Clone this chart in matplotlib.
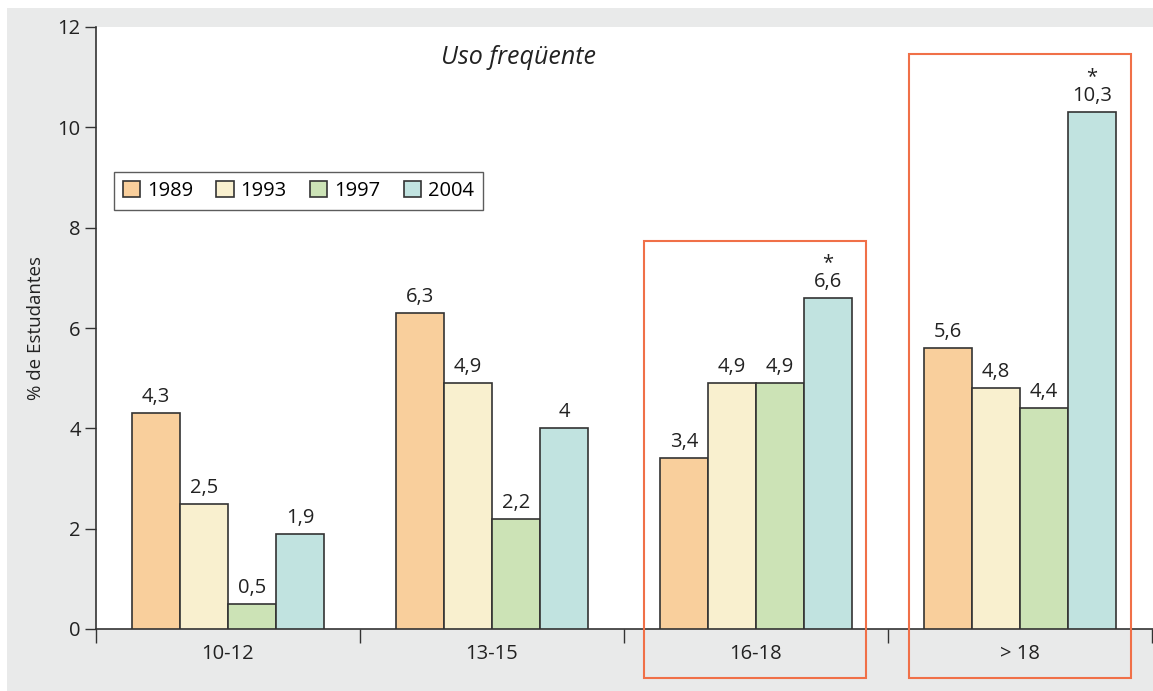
import matplotlib.pyplot as plt
from matplotlib.patches import Rectangle
import numpy as np

plt.rcParams['font.family'] = ['Open Sans', 'DejaVu Sans']

categories = ['10-12', '13-15', '16-18', '> 18']
years = ['1989', '1993', '1997', '2004']
v1989 = [4.3, 6.3, 3.4, 5.6]
v1993 = [2.5, 4.9, 4.9, 4.8]
v1997 = [0.5, 2.2, 4.9, 4.4]
v2004 = [1.9, 4.0, 6.6, 10.3]
starred = [False, False, True, True]  # asterisk on 2004 bar

colors = ['#f9cf9c', '#f9f0cf', '#cce3b6', '#c1e3e0']
edge = '#333333'
red = '#f07048'

fig = plt.figure(figsize=(11.53, 6.91), dpi=100, facecolor='white')
bg = Rectangle((7 / 1153, 0), 1 - 7 / 1153, 1 - 8 / 691,
               transform=fig.transFigure, facecolor='#e9eaea',
               edgecolor='none', zorder=-10)
fig.add_artist(bg)
ax = fig.add_axes([96 / 1153, 62 / 691, 1057 / 1153, 602 / 691])
ax.set_zorder(1)
ax.set_facecolor('white')

x = np.arange(len(categories))
w = 0.182
series = [v1989, v1993, v1997, v2004]
for i, (vals, c, lab) in enumerate(zip(series, colors, years)):
    pos = x + (i - 1.5) * w
    ax.bar(pos, vals, width=w, color=c, edgecolor=edge, linewidth=1.2,
           label=lab, zorder=3)
    for j, (p, v) in enumerate(zip(pos, vals)):
        txt = ('%g' % v).replace('.', ',')
        ax.text(p, v + 0.12, txt, ha='center', va='bottom', fontsize=14.5,
                color='#222222', zorder=4)
        if i == 3 and starred[j]:
            ax.text(p, v + 0.5, '*', ha='center', va='bottom', fontsize=14.5,
                    color='#222222', zorder=4)

ax.set_xlim(-0.5, 3.505)
ax.set_ylim(0, 12)
ax.set_yticks([0, 2, 4, 6, 8, 10, 12])
ax.tick_params(axis='y', labelsize=14.5, length=8, width=1, colors='#333333',
               labelcolor='#222222', pad=3)
ax.set_xticks([-0.5, 0.5, 1.5, 2.5, 3.5])
ax.set_xticklabels([])
ax.set_xticks(x, minor=True)
ax.set_xticklabels(categories, minor=True)
ax.tick_params(axis='x', which='major', length=10, width=1, colors='#333333')
ax.tick_params(axis='x', which='minor', length=0, labelsize=14.5,
               labelcolor='#222222', pad=11)
for s in ['top', 'right']:
    ax.spines[s].set_visible(False)
for s in ['left', 'bottom']:
    ax.spines[s].set_color('#333333')
    ax.spines[s].set_linewidth(1.2)
ax.set_ylabel('% de Estudantes', fontsize=13.5, color='#222222', labelpad=9)

ax.text(1.10, 11.4, 'Uso freqüente', style='italic', fontsize=18,
        ha='center', va='center', color='#222222')

# highlight boxes
for x0, x1, y1 in [(1.576, 2.418, 7.73), (2.582, 3.42, 11.46)]:
    ax.add_patch(Rectangle((x0, -0.98), x1 - x0, y1 + 0.98, fill=False,
                           edgecolor=red, linewidth=1.5, clip_on=False,
                           zorder=5))

leg = ax.legend(loc='lower left', bbox_to_anchor=(0.017, 0.696), ncol=4,
                fontsize=14.5, frameon=True, fancybox=False,
                handlelength=0.85, handleheight=0.85, handletextpad=0.35,
                columnspacing=1.15, borderpad=0.45, borderaxespad=0)
leg.get_frame().set_edgecolor('#333333')
leg.get_frame().set_linewidth(1.0)

fig.savefig('out.png', dpi=100, facecolor=fig.get_facecolor())
